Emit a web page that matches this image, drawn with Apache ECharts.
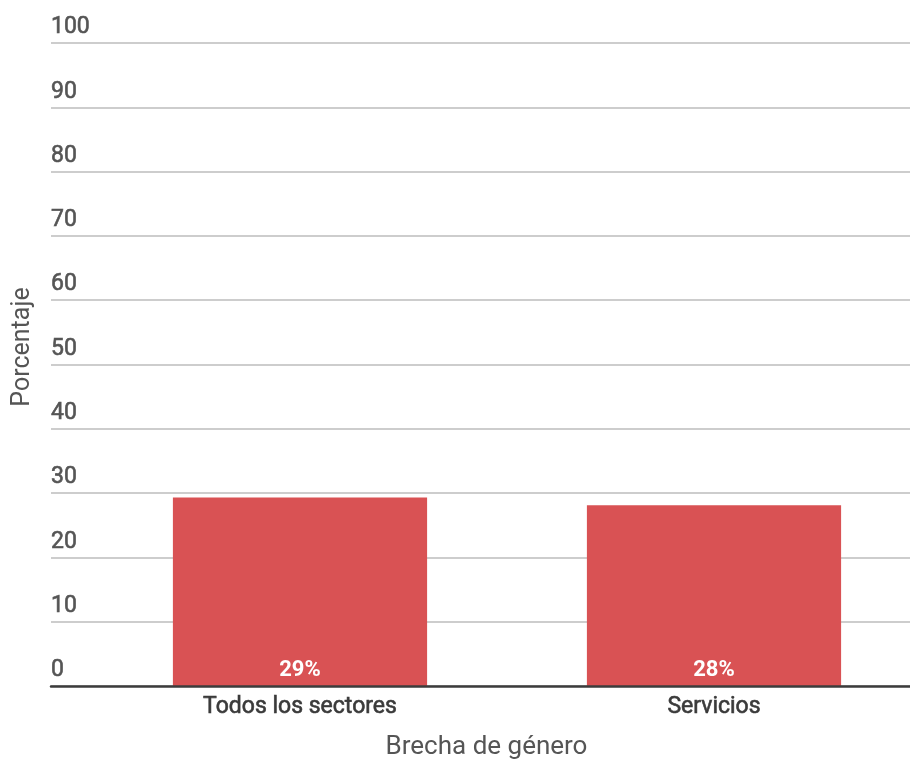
<!DOCTYPE html>
<html>
<head>
<meta charset="utf-8">
<script src="https://cdn.jsdelivr.net/npm/echarts@6/dist/echarts.min.js"></script>
<style>
html,body{margin:0;padding:0;background:#fff;}
#chart{width:910px;height:760px;}
</style>
</head>
<body>
<div id="chart"></div>
<script>
const categories = ['Todos los sectores', 'Servicios'];
const values = [29.3, 28.1];
const yTicks = { min: 0, max: 100, interval: 10 };
const xTitle = 'Brecha de género';
const yTitle = 'Porcentaje';

const chart = echarts.init(document.getElementById('chart'));
const font = 'Roboto, "Noto Sans", sans-serif';
chart.setOption({
  animation: false,
  textStyle: { fontFamily: font },
  grid: [
    { left: 51, right: 0, top: 43, bottom: 74, containLabel: false, outerBoundsMode: 'none' },
    { left: 93, width: 828, top: 43, bottom: 74, containLabel: false, outerBoundsMode: 'none' }
  ],
  xAxis: [
    {
      gridIndex: 0, type: 'category', data: categories.map(() => ''),
      z: 5,
      axisLine: { show: true, lineStyle: { color: '#3c3c3c', width: 2.5 } },
      axisTick: { show: false }, axisLabel: { show: false },
      name: xTitle, nameLocation: 'middle', nameGap: 48,
      nameTextStyle: { fontSize: 26, color: '#555', fontFamily: font, padding: [0, 0, 0, 12] }
    },
    {
      gridIndex: 1, type: 'category', data: categories,
      axisLine: { show: false }, axisTick: { show: false },
      axisLabel: {
        fontSize: 23, color: '#3a3a3a', margin: 10, fontFamily: font,
        textBorderColor: '#3a3a3a', textBorderWidth: 0.6
      }
    }
  ],
  yAxis: [
    {
      gridIndex: 0, type: 'value', min: yTicks.min, max: yTicks.max, interval: yTicks.interval,
      axisLine: { show: false }, axisTick: { show: false },
      splitLine: { show: true, lineStyle: { color: '#bcbcbc', width: 1.5 } },
      axisLabel: {
        inside: true, margin: 0, align: 'left', verticalAlign: 'bottom',
        padding: [0, 0, 4, 0], fontSize: 23, color: '#555', fontFamily: font,
        textBorderColor: '#555', textBorderWidth: 0.6
      }
    },
    {
      gridIndex: 1, type: 'value', min: yTicks.min, max: yTicks.max, interval: yTicks.interval,
      show: false, splitLine: { show: false }
    }
  ],
  graphic: [{
    type: 'text', x: 23, y: 347, rotation: Math.PI / 2,
    style: { text: yTitle, fontSize: 25, fill: '#555', fontFamily: font, align: 'center', verticalAlign: 'middle' }
  }],
  series: [{
    type: 'bar', xAxisIndex: 1, yAxisIndex: 1,
    data: values, barCategoryGap: '38.6%',
    itemStyle: { color: '#d95254' },
    label: {
      show: true, position: 'insideBottom', distance: 5,
      formatter: p => Math.round(p.value) + '%',
      color: '#fff', fontSize: 22, fontWeight: 'bold', fontFamily: font
    }
  }]
});
</script>
</body>
</html>
